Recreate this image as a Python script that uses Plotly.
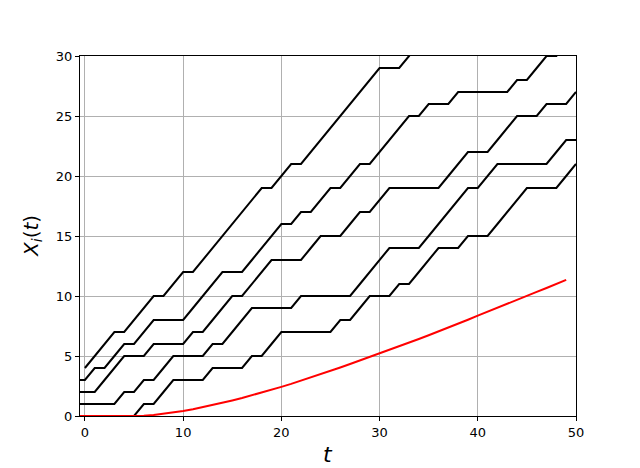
import plotly.graph_objects as go

# Times for each trajectory
t_a = list(range(0, 35))
t_full = list(range(-1, 51))
t_red = list(range(-1, 50))

x_a = [4, 5, 6, 7, 7, 8, 9, 10, 10, 11, 12, 12, 13, 14, 15, 16, 17, 18, 19, 19,
       20, 21, 21, 22, 23, 24, 25, 26, 27, 28, 29, 29, 29, 30, 31]

x_b = [3, 3, 4, 4, 5, 6, 6, 7, 8, 8, 8, 8, 9, 10, 11, 12, 12, 12, 13, 14,
       15, 16, 16, 17, 17, 18, 19, 19, 20, 21, 21, 22, 23, 24, 25, 25, 26, 26,
       26, 27, 27, 27, 27, 27, 27, 28, 28, 29, 30, 30, 31, 32]

x_c = [2, 2, 2, 3, 4, 5, 5, 5, 6, 6, 6, 6, 7, 7, 8, 9, 10, 10, 11, 12,
       13, 13, 13, 13, 14, 15, 15, 15, 16, 17, 17, 18, 19, 19, 19, 19, 19, 19,
       20, 21, 22, 22, 22, 23, 24, 25, 25, 25, 26, 26, 26, 27]

x_d = [1, 1, 1, 1, 1, 2, 2, 3, 3, 4, 5, 5, 5, 5, 6, 6, 7, 8, 9, 9,
       9, 9, 9, 10, 10, 10, 10, 10, 10, 11, 12, 13, 14, 14, 14, 14, 15, 16,
       17, 18, 19, 19, 20, 21, 21, 21, 21, 21, 21, 22, 23, 23]

x_e = [0, 0, 0, 0, 0, 0, 0, 1, 1, 2, 3, 3, 3, 3, 4, 4, 4, 4, 5, 5,
       6, 7, 7, 7, 7, 7, 7, 8, 8, 9, 10, 10, 10, 11, 11, 12, 13, 14, 14,
       14, 15, 15, 15, 16, 17, 18, 19, 19, 19, 19, 20, 21]

red_vals = [0, 0, 0, 0, 0, 0, 0, 0.03, 0.09, 0.18, 0.29, 0.42, 0.57, 0.74,
            0.92, 1.10, 1.30, 1.50, 1.72, 1.94, 2.18, 2.43, 2.68, 2.94, 3.21,
            3.48, 3.76, 4.04, 4.33, 4.62, 4.92, 5.22, 5.51, 5.81, 6.11, 6.42,
            6.73, 7.04, 7.36, 7.68, 8.02, 8.36, 8.70, 9.02, 9.35, 9.68, 10.01,
            10.34, 10.67, 11.01, 11.35]

x_ticks = [0, 10, 20, 30, 40, 50]
y_ticks = [0, 5, 10, 15, 20, 25, 30]

fig = go.Figure()
for tt, xx in [(t_a, x_a), (t_full, x_b), (t_full, x_c), (t_full, x_d), (t_full, x_e)]:
    fig.add_trace(go.Scatter(x=tt, y=xx, mode="lines",
                             line=dict(color="black", width=2), showlegend=False))
fig.add_trace(go.Scatter(x=t_red, y=red_vals, mode="lines",
                         line=dict(color="red", width=2), showlegend=False))

axis_common = dict(showline=True, mirror=True, linecolor="black", linewidth=1,
                   showgrid=True, gridcolor="#b0b0b0", gridwidth=1,
                   zeroline=False, ticks="outside", ticklen=4, tickcolor="black",
                   tickwidth=1, layer="below traces",
                   tickfont=dict(family="DejaVu Sans", size=13, color="black"))

fig.update_layout(
    width=632, height=460,
    margin=dict(l=72, r=64, t=48, b=52),
    paper_bgcolor="white", plot_bgcolor="white",
    xaxis=dict(range=[-0.5, 50], tickvals=x_ticks, **axis_common),
    yaxis=dict(range=[0, 30], tickvals=y_ticks, **axis_common),
    annotations=[
        dict(text="<i>t</i>", xref="paper", yref="paper", x=0.5, y=-0.108,
             xanchor="center", yanchor="middle", showarrow=False,
             font=dict(family="DejaVu Sans", size=22, color="black")),
        dict(text="<i>X<sub>i</sub></i>(<i>t</i>)", xref="paper", yref="paper",
             x=-0.097, y=0.5, xanchor="center", yanchor="middle",
             textangle=-90, showarrow=False,
             font=dict(family="DejaVu Sans", size=20, color="black")),
    ],
)

fig.write_html("out.html")
